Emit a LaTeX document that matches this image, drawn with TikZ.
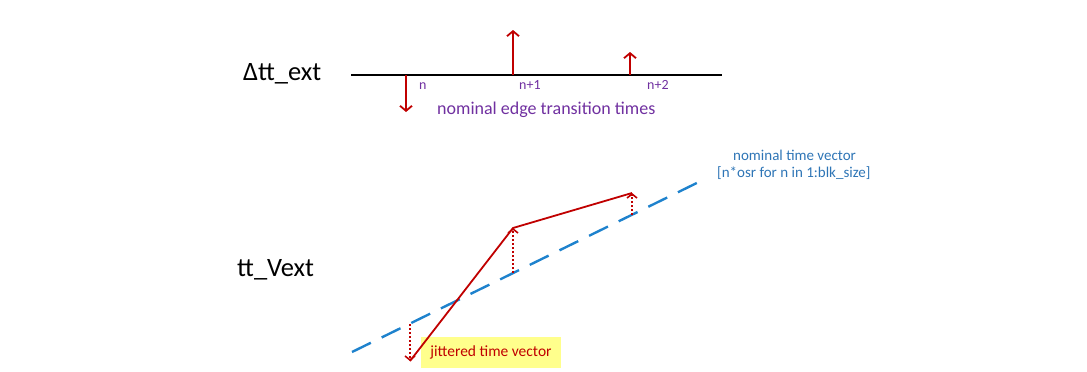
\documentclass[tikz,border=0pt]{standalone}
\usepackage{fontspec}
\setmainfont{Carlito}
\usetikzlibrary{arrows.meta}
\definecolor{jred}{RGB}{192,0,0}
\definecolor{jpurple}{RGB}{112,48,160}
\definecolor{jblue}{RGB}{30,130,205}
\definecolor{jbluetext}{RGB}{46,117,182}
\definecolor{jyellow}{RGB}{255,255,140}
\begin{document}
\begin{tikzpicture}[x=1pt,y=-1pt,
  axisline/.style={draw=black,line width=2pt},
  redarrow/.style={draw=jred,line width=1.8pt,-{Straight Barb[length=5pt,width=12pt,line width=1.8pt]}},
  jitterline/.style={draw=jred,line width=1.8pt,line join=miter},
  dotarrow/.style={draw=jred,line width=1.9pt,dash pattern=on 2pt off 2pt,-{Straight Barb[length=4pt,width=10pt,line width=1.6pt]}},
  nomline/.style={draw=jblue,line width=2.4pt,dash pattern=on 21pt off 12pt},
  biglabel/.style={font=\fontsize{26.5}{30}\selectfont,text=black,inner sep=0pt},
  idxlabel/.style={font=\fontsize{14}{16}\selectfont,text=jpurple,inner sep=0pt},
  purplelabel/.style={font=\fontsize{18}{21}\selectfont,text=jpurple,inner sep=0pt},
  bluelabel/.style={font=\fontsize{15}{18}\selectfont,text=jbluetext,inner sep=0pt},
  jitterlabel/.style={font=\fontsize{15.5}{18}\selectfont,text=jred,fill=jyellow,minimum width=140pt,minimum height=31pt,inner sep=0pt}
]
\useasboundingbox (0,0) rectangle (1087,372);
% ---------- top: Delta tt_ext ----------
\node[biglabel,anchor=base west] (dlabel) at (243,80.7) {Δtt\_ext};
\coordinate (axL) at (351,75);
\coordinate (axR) at (722,75);
\draw[axisline] (axL) -- (axR);
\coordinate (e0) at (406,75); \coordinate (e0t) at (406,112);
\coordinate (e1) at (513,75); \coordinate (e1t) at (513,30);
\coordinate (e2) at (630,75); \coordinate (e2t) at (630,52);
\draw[redarrow] (e0) -- (e0t);
\draw[redarrow] (e1) -- (e1t);
\draw[redarrow] (e2) -- (e2t);
\node[idxlabel,anchor=base west] (n0) at (419,89) {n};
\node[idxlabel,anchor=base west] (n1) at (519,89) {n+1};
\node[idxlabel,anchor=base west] (n2) at (647,89) {n+2};
\node[purplelabel,anchor=base west] (nomedge) at (437,114) {nominal edge transition times};
% ---------- bottom: tt_Vext ----------
\node[biglabel,anchor=base west] (vlabel) at (237,276.7) {tt\_Vext};
\node[jitterlabel] (jit) at (491,352.5) {\raisebox{1.5pt}{jittered time vector}};
\coordinate (dA) at (352,352);
\coordinate (dB) at (707,178);
\draw[nomline] (dA) -- (dB);
\coordinate (q0) at (410,324); \coordinate (p0) at (410,361);
\coordinate (q1) at (513,273); \coordinate (p1) at (513,228);
\coordinate (q2) at (632,215); \coordinate (p2) at (632,193);
\draw[jitterline] (p0) -- (p1) -- (p2);
\draw[dotarrow] (q0) -- (p0);
\draw[dotarrow] (q1) -- (p1);
\draw[dotarrow] (q2) -- (p2);
\node[bluelabel,anchor=base west] (nomvec1) at (733,160) {nominal time vector};
\node[bluelabel,anchor=base west] (nomvec2) at (717,177.5) {[n*osr for n in 1:blk\_size]};
\end{tikzpicture}
\end{document}
